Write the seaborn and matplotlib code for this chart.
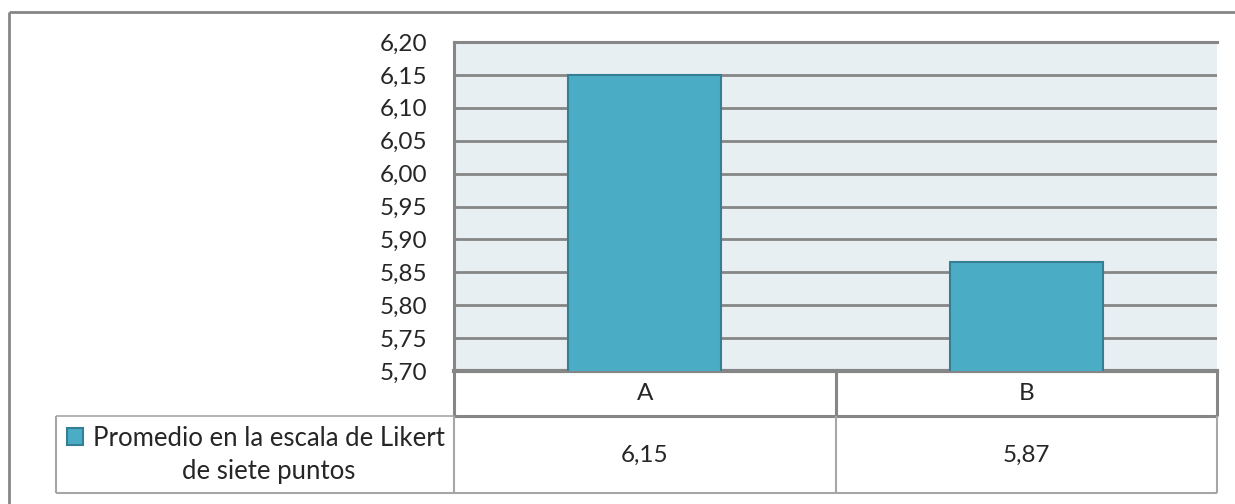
import numpy as np
import pandas as pd
import matplotlib.pyplot as plt
import seaborn as sns
from matplotlib.lines import Line2D
from matplotlib.patches import Rectangle
from matplotlib.ticker import MultipleLocator, FuncFormatter

categories = ["A", "B"]
values = [6.15, 5.866]
series_label = ["Promedio en la escala de Likert", "de siete puntos"]

BAR = "#4BACC6"
BAR_EDGE = "#357F95"
GRID = "#868686"
THIN = "#A6A6A6"
BG = "#E8EFF3"

W, H = 1235, 504
FS = 17.5

sns.set_style("white")
plt.rcParams["font.family"] = ["Lato", "DejaVu Sans"]
plt.rcParams["font.size"] = FS

df = pd.DataFrame({"cat": categories, "val": values})

fig = plt.figure(figsize=(W / 100, H / 100), dpi=100)


def fx(x):
    return x / W


def fy(y):
    return 1 - y / H


def hline(y, x0, x1, color=GRID, lw=2.0):
    fig.add_artist(Line2D([fx(x0), fx(x1)], [fy(y), fy(y)], color=color, lw=lw,
                          transform=fig.transFigure, solid_capstyle="butt"))


def vline(x, y0, y1, color=GRID, lw=2.0):
    fig.add_artist(Line2D([fx(x), fx(x)], [fy(y0), fy(y1)], color=color, lw=lw,
                          transform=fig.transFigure, solid_capstyle="butt"))


# plot area
x0, x1, y0, y1 = 454, 1217, 42, 371
ax = fig.add_axes([fx(x0), fy(y1), fx(x1) - fx(x0), fy(y0) - fy(y1)])
ax.set_facecolor(BG)
sns.barplot(data=df, x="cat", y="val", color=BAR, width=0.4, saturation=1,
            edgecolor=BAR_EDGE, linewidth=1.5, ax=ax, zorder=3)
ax.set_ylim(5.70, 6.20)
ax.yaxis.set_major_locator(MultipleLocator(0.05))
ax.yaxis.set_major_formatter(FuncFormatter(lambda v, _: f"{v:.2f}".replace(".", ",")))
ax.yaxis.grid(True, color=GRID, linewidth=2.0, zorder=0)
ax.set_axisbelow(True)
ax.tick_params(axis="y", length=0, pad=19, labelsize=FS)
ax.set_xticks([])
ax.set_xlabel("")
ax.set_ylabel("")
for side in ["left", "top"]:
    ax.spines[side].set_color(GRID)
    ax.spines[side].set_linewidth(2.2)
ax.spines["bottom"].set_color(GRID)
ax.spines["bottom"].set_linewidth(3.0)
ax.spines["right"].set_visible(False)

# outer chart border
hline(12, 9, W)
vline(9, 12, H)

# data table: header row
mid = (x0 + x1) / 2
hline(416, x0, x1, lw=2.2)
vline(x0, y1, 416, lw=2.2)
vline(mid, y1, 416, lw=2.2)
vline(x1, y1, 416, lw=2.2)

# data table: value row
hline(416, 56, x0, color=THIN, lw=1.2)
hline(493, 56, x1, color=THIN, lw=1.5)
for xv in [56, x0, mid, x1]:
    vline(xv, 416, 493, color=THIN, lw=1.5)

centers = [(x0 + mid) / 2, (mid + x1) / 2]
for cx, cat, val in zip(centers, categories, values):
    fig.text(fx(cx), fy(394), cat, ha="center", va="center", fontsize=FS)
    fig.text(fx(cx), fy(455), f"{val:.2f}".replace(".", ","),
             ha="center", va="center", fontsize=FS)

# legend key and label
fig.add_artist(Rectangle((fx(67), fy(445)), fx(83) - fx(67), fy(428) - fy(445),
                         transform=fig.transFigure, facecolor=BAR,
                         edgecolor=BAR_EDGE, lw=1.5))
fig.text(fx(269), fy(438), series_label[0], ha="center", va="center", fontsize=18.5)
fig.text(fx(269), fy(472), series_label[1], ha="center", va="center", fontsize=18.5)

fig.savefig("out.png", dpi=100)
